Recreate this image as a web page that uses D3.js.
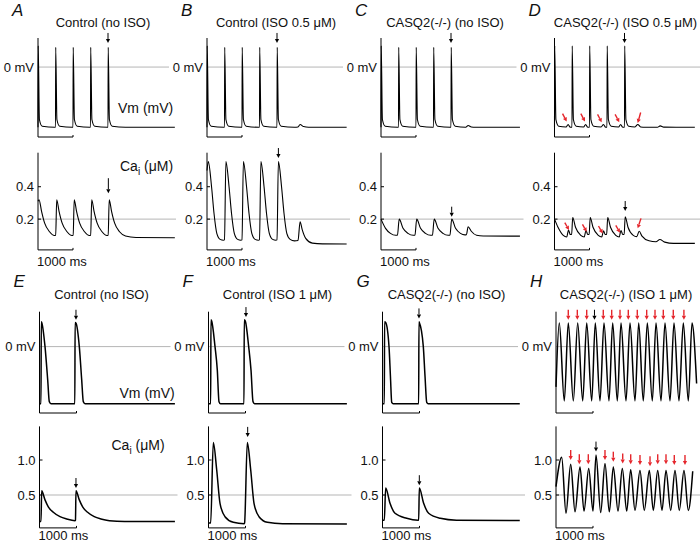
<!DOCTYPE html>
<html lang="en">
<head>
<meta charset="UTF-8" />
<title>CASQ2 Vm / Cai traces</title>
<style>
  body { margin: 0; background: #fff; }
  text { font-family: "Liberation Sans", Arial, sans-serif; fill: #111; }
</style>
</head>
<body>
<svg id="svg" width="700" height="545"></svg>
<script src="https://d3js.org/d3.v7.min.js"></script>
<script>
// ---------- data: [time (ms), Vm (mV)] and [time (ms), Cai (uM)] ----------
const vmA = [[0,-85],[6,30],[40,-74],[120,-83.5],[480,-85],
  [500,-85],[506,28],[540,-74],[620,-83.5],[980,-85],
  [1000,-85],[1006,28],[1040,-74],[1120,-83.5],[1480,-85],
  [1500,-85],[1506,28],[1540,-74],[1620,-83.5],[1980,-85],
  [2000,-85],[2006,28],[2040,-74],[2120,-83.5],[2500,-85],[3910,-85]];
const caA = [[0,0.31],[30,0.32],[100,0.25],[190,0.175],[330,0.122],[470,0.099],
  [505,0.10],[535,0.32],[600,0.25],[690,0.175],[830,0.122],[970,0.099],
  [1005,0.10],[1035,0.32],[1100,0.25],[1190,0.175],[1330,0.122],[1470,0.099],
  [1505,0.10],[1535,0.32],[1600,0.25],[1690,0.175],[1830,0.122],[1970,0.099],
  [2005,0.10],[2035,0.32],[2100,0.25],[2190,0.175],[2330,0.122],[2500,0.096],[2800,0.087],[3910,0.085]];

const vmB = [[0,-85],[6,30],[40,-74],[120,-83.5],[480,-85],
  [500,-85],[506,28],[540,-74],[620,-83.5],[980,-85],
  [1000,-85],[1006,28],[1040,-74],[1120,-83.5],[1480,-85],
  [1500,-85],[1506,28],[1540,-74],[1620,-83.5],[1980,-85],
  [2000,-85],[2006,28],[2040,-74],[2120,-83.5],[2500,-85],[2600,-84.5],[2660,-81],[2760,-84],[2900,-85],[3990,-85]];
const caB = [[0,0.50],[37,0.555],[130,0.40],[200,0.236],[280,0.112],[375,0.075],[470,0.07],
  [500,0.072],[540,0.555],[630,0.40],[700,0.236],[780,0.112],[875,0.075],[970,0.07],
  [1000,0.072],[1040,0.555],[1130,0.40],[1200,0.236],[1280,0.112],[1375,0.075],[1470,0.07],
  [1500,0.072],[1540,0.555],[1630,0.40],[1700,0.236],[1780,0.112],[1875,0.075],[1970,0.07],
  [2000,0.072],[2040,0.555],[2130,0.40],[2200,0.236],[2280,0.112],[2375,0.075],[2500,0.066],
  [2600,0.068],[2660,0.184],[2720,0.135],[2820,0.081],[3010,0.052],[3300,0.047],[3990,0.046]];

const vmC = [[0,-85],[6,30],[40,-74],[120,-83.5],[480,-85],
  [500,-85],[506,28],[540,-74],[620,-83.5],[980,-85],
  [1000,-85],[1006,28],[1040,-74],[1120,-83.5],[1480,-85],
  [1500,-85],[1506,28],[1540,-74],[1620,-83.5],[1980,-85],
  [2000,-85],[2006,28],[2040,-74],[2120,-83.5],[2420,-85],[2490,-82.5],[2580,-84.5],[2700,-85],[3970,-85]];
const caC = [[0,0.20],[130,0.143],[270,0.112],[420,0.10],[470,0.10],
  [520,0.20],[630,0.143],[770,0.112],[920,0.10],[970,0.10],
  [1020,0.20],[1130,0.143],[1270,0.112],[1420,0.10],[1470,0.10],
  [1520,0.20],[1630,0.143],[1770,0.112],[1920,0.10],[1970,0.10],
  [2020,0.20],[2130,0.143],[2270,0.112],[2400,0.103],[2440,0.104],[2490,0.153],[2580,0.125],
  [2730,0.10],[2920,0.096],[3970,0.095]];

const vmD = [[0,-85],[6,30],[40,-74],[120,-83.5],[330,-84.5],[390,-81],[440,-84.5],[480,-85],
  [500,-85],[506,30],[540,-74],[620,-83.5],[830,-84.5],[890,-81],[940,-84.5],[980,-85],
  [1000,-85],[1006,30],[1040,-74],[1120,-83.5],[1330,-84.5],[1400,-81],[1450,-84.5],[1480,-85],
  [1500,-85],[1506,30],[1540,-74],[1620,-83.5],[1830,-84.5],[1890,-81],[1940,-84.5],[1980,-85],
  [2000,-85],[2006,30],[2040,-74],[2120,-83.5],[2300,-84.5],[2380,-81],[2460,-84.5],[2600,-85],
  [2940,-85],[3020,-83],[3120,-84.8],[4010,-85]];
const caD = [[0,0.20],[100,0.15],[250,0.10],[350,0.09],[400,0.133],[450,0.105],[490,0.105],
  [520,0.21],[600,0.15],[750,0.10],[850,0.09],[900,0.13],[950,0.105],[990,0.105],
  [1020,0.21],[1100,0.15],[1250,0.10],[1350,0.09],[1400,0.128],[1450,0.105],[1490,0.105],
  [1520,0.21],[1600,0.15],[1750,0.10],[1850,0.09],[1900,0.13],[1950,0.105],[1990,0.105],
  [2020,0.215],[2100,0.15],[2250,0.10],[2350,0.092],[2420,0.125],[2500,0.095],[2700,0.066],
  [2900,0.06],[3010,0.074],[3150,0.058],[3400,0.05],[4010,0.05]];

const vmE = [[0,-85],[40,-85],[48,37],[59,36],[149,0],[222,-50],[265,-82],[310,-85],
  [955,-85],[962,36],[986,35],[1076,0],[1141,-50],[1184,-82],[1230,-85],[3660,-85]];
const caE = [[0,0.12],[40,0.12],[59,0.56],[149,0.43],[238,0.33],[373,0.253],[554,0.19],[735,0.157],[959,0.133],
  [972,0.14],[986,0.56],[1076,0.43],[1166,0.33],[1300,0.253],[1480,0.19],[1660,0.157],[1890,0.133],
  [2300,0.122],[3660,0.12]];

const vmF = [[0,-85],[59,-85],[66,40],[86,38],[176,0],[238,-35],[284,-82],[325,-85],
  [959,-85],[966,40],[995,38],[1086,0],[1149,-35],[1203,-82],[1245,-85],[3740,-85]];
const caF = [[0,0.10],[59,0.10],[130,1.25],[222,0.857],[311,0.381],[446,0.19],[670,0.11],[960,0.09],
  [975,0.10],[1049,1.25],[1141,0.857],[1230,0.381],[1365,0.19],[1590,0.11],[2000,0.09],[3740,0.086]];

const vmG = [[0,-85],[49,-85],[56,37],[86,36],[176,0],[215,-45],[249,-83],[290,-85],
  [978,-85],[985,37],[995,36],[1103,0],[1150,-45],[1195,-83],[1235,-85],[3710,-85]];
const caG = [[0,0.14],[49,0.14],[86,0.60],[203,0.381],[338,0.239],[654,0.167],[960,0.14],
  [978,0.14],[995,0.60],[1112,0.381],[1247,0.239],[1563,0.167],[2000,0.14],[3710,0.135]];

const vmH = [[0,-60],[89,35],[224,-81],[332,35],[468,-81],[586,35],[722,-81],[830,35],[965,-81],
  [1062,35],[1189,-81],[1297,35],[1432,-81],[1532,35],[1657,-81],[1757,35],[1892,-81],[2000,35],
  [2135,-81],[2235,35],[2359,-81],[2468,35],[2603,-81],[2703,35],[2838,-81],[2946,35],[3081,-81],
  [3189,35],[3324,-81],[3441,35],[3576,-81],[3676,35],[3800,-55]];
const caH = [[0,0.62],[154,1.04],[270,0.24],[397,0.94],[514,0.26],[649,0.90],[757,0.27],[884,0.88],
  [1000,0.27],[1081,1.07],[1208,0.25],[1324,0.95],[1441,0.26],[1549,0.90],[1676,0.27],[1792,0.88],
  [1911,0.27],[2019,0.86],[2135,0.28],[2270,0.85],[2386,0.28],[2522,0.85],[2630,0.28],[2749,0.85],
  [2865,0.28],[2973,0.85],[3100,0.28],[3216,0.85],[3332,0.28],[3459,0.85],[3576,0.28],[3695,0.84]];

// annotation arrows: tip at [time, value]
const blackVm = { A: [[2000,34]], B: [[2000,34]], C: [[2000,34]], D: [[2000,34]],
  E: [[986,40]], F: [[1013,44]], G: [[986,42]], H: [[1040,40]] };
const blackCa = { A: [[2010,0.36]], B: [[2040,0.577]], C: [[2020,0.215]], D: [[2020,0.25]],
  E: [[986,0.60]], F: [[1059,1.33]], G: [[995,0.64]], H: [[1081,1.12]] };
const redVmD = [[349,-77],[871,-77],[1349,-78],[1851,-78]];
const redVmDLast = [[2377,-79]];
const redCaD = [[414,0.133],[920,0.122],[1377,0.112],[1871,0.116]];
const redCaDLast = [[2377,0.143]];
const redVmH = [[332,40],[576,40],[830,40],[1278,40],[1505,40],[1730,40],[1954,40],[2197,40],
  [2451,40],[2676,40],[2900,40],[3170,40],[3457,40]];
const redCaH = [[397,1.0],[630,0.94],[873,0.94],[1324,1.0],[1549,0.976],[1803,0.95],[2019,0.94],
  [2270,0.93],[2541,0.91],[2749,0.94],[2973,0.94],[3197,0.93],[3486,0.93]];

// ---------- layout ----------
const rows = [
  { axisX: [38, 207, 381, 554.5], pxPerSec: 35,
    vmDomain: [-86, 41], vmRange: [128, 38], vmBarY: 137,
    caDomain: [0.01, 0.61], caRange: [249.9, 152.7], caRef: 0.2, caTicks: [0.2, 0.4],
    letterY: 16, titleY: 27, vmLabelY: 113, caLabelY: 171, msY: 266, stroke: 1.1 },
  { axisX: [39.5, 208.5, 382.5, 556], pxPerSec: 37,
    vmDomain: [-87, 52], vmRange: [405, 311.7], vmBarY: 413,
    caDomain: [0.03, 1.48], caRange: [527.9, 426.4], caRef: 0.5, caTicks: [0.5, 1.0],
    letterY: 287, titleY: 299, vmLabelY: 398, caLabelY: 450, msY: 540, stroke: 1.5 }
];

const panels = [
  { id: "A", row: 0, col: 0, title: "Control (no ISO)", titleDx: 65, vm: vmA, ca: caA, units: true },
  { id: "B", row: 0, col: 1, title: "Control (ISO 0.5 \u03BCM)", titleDx: 69, vm: vmB, ca: caB },
  { id: "C", row: 0, col: 2, title: "CASQ2(-/-) (no ISO)", titleDx: 64, vm: vmC, ca: caC },
  { id: "D", row: 0, col: 3, title: "CASQ2(-/-) (ISO 0.5 \u03BCM)", titleDx: 71, vm: vmD, ca: caD },
  { id: "E", row: 1, col: 0, title: "Control (no ISO)", titleDx: 62, vm: vmE, ca: caE, units: true },
  { id: "F", row: 1, col: 1, title: "Control (ISO 1 \u03BCM)", titleDx: 69, vm: vmF, ca: caF },
  { id: "G", row: 1, col: 2, title: "CASQ2(-/-) (no ISO)", titleDx: 64, vm: vmG, ca: caG },
  { id: "H", row: 1, col: 3, title: "CASQ2(-/-) (ISO 1 \u03BCM)", titleDx: 70, vm: vmH, ca: caH }
];

const grey = "#b5b5b5";
const red = "#e5262c";

const svg = d3.select("#svg");
svg.append("rect").attr("width", 700).attr("height", 545).attr("fill", "#fff");

// arrow with its tip at (x, y), pointing along (dx, dy)
function arrow(g, x, y, dx, dy, len, color, w) {
  const n = Math.hypot(dx, dy), ux = dx / n, uy = dy / n;
  const hl = 4, hw = 2.1;
  const bx = x - ux * hl, by = y - uy * hl;
  g.append("line")
    .attr("x1", x - ux * len).attr("y1", y - uy * len)
    .attr("x2", bx).attr("y2", by)
    .attr("stroke", color).attr("stroke-width", w);
  g.append("path")
    .attr("d", `M${x},${y}L${bx - uy * hw},${by + ux * hw}L${bx + uy * hw},${by - ux * hw}Z`)
    .attr("fill", color);
}

function drawPanel(p) {
  const r = rows[p.row];
  const ax = r.axisX[p.col];
  const last = p.col === 3;
  const next = last ? 700 : r.axisX[p.col + 1];

  const x = d3.scaleLinear().domain([0, 1000]).range([ax, ax + r.pxPerSec]);
  const yV = d3.scaleLinear().domain(r.vmDomain).range(r.vmRange);
  const yC = d3.scaleLinear().domain(r.caDomain).range(r.caRange);

  const g = svg.append("g");

  // reference lines (0 mV, Ca level)
  g.append("line").attr("x1", ax).attr("x2", last ? 700 : next - 38)
    .attr("y1", yV(0)).attr("y2", yV(0)).attr("stroke", grey).attr("stroke-width", 1);
  g.append("line").attr("x1", ax).attr("x2", last ? 700 : next - 31)
    .attr("y1", yC(r.caRef)).attr("y2", yC(r.caRef)).attr("stroke", grey).attr("stroke-width", 1);

  // Vm axis + 1000 ms bar
  const barEnd = x(1000);
  g.append("path")
    .attr("d", `M${ax},${r.vmRange[1]}V${r.vmBarY}H${barEnd}v-2`)
    .attr("fill", "none").attr("stroke", "#000").attr("stroke-width", 1);
  // Ca axis + 1000 ms bar
  const caBottom = r.caRange[0];
  g.append("path")
    .attr("d", `M${ax},${r.caRange[1]}V${caBottom}H${barEnd}v-2`)
    .attr("fill", "none").attr("stroke", "#000").attr("stroke-width", 1);
  g.selectAll("line.tick").data(r.caTicks).join("line")
    .attr("x1", ax).attr("x2", ax + 3)
    .attr("y1", d => yC(d)).attr("y2", d => yC(d))
    .attr("stroke", "#000").attr("stroke-width", 1);

  // labels
  g.append("text").attr("x", ax - 4).attr("y", yV(0)).attr("dy", "0.36em")
    .attr("text-anchor", "end").attr("font-size", 13).text("0 mV");
  g.selectAll("text.ct").data(r.caTicks).join("text")
    .attr("x", ax - 4).attr("y", d => yC(d)).attr("dy", "0.36em")
    .attr("text-anchor", "end").attr("font-size", 13).text(d3.format(".1f"));
  g.append("text").attr("x", ax - 1).attr("y", r.msY).attr("font-size", 13).text("1000 ms");
  g.append("text").attr("x", ax - 26).attr("y", r.letterY).attr("font-size", 17)
    .attr("font-style", "italic").text(p.id);
  g.append("text").attr("x", ax + p.titleDx).attr("y", r.titleY).attr("text-anchor", "middle")
    .attr("font-size", 13).text(p.title);

  if (p.units) {
    g.append("text").attr("x", ax + 80).attr("y", r.vmLabelY).attr("font-size", 14).text("Vm (mV)");
    const t = g.append("text").attr("x", ax + (p.row === 0 ? 82 : 72)).attr("y", r.caLabelY).attr("font-size", 14);
    t.append("tspan").text("Ca");
    t.append("tspan").attr("dy", 4).attr("font-size", 10).text("i");
    t.append("tspan").attr("dy", -4).text(" (\u03BCM)");
  }

  // traces
  const lineV = d3.line().x(d => x(d[0])).y(d => yV(d[1])).curve(d3.curveMonotoneX);
  const lineC = d3.line().x(d => x(d[0])).y(d => yC(d[1])).curve(d3.curveMonotoneX);
  g.append("path").datum(p.vm).attr("d", lineV)
    .attr("fill", "none").attr("stroke", "#000").attr("stroke-width", r.stroke).attr("stroke-linejoin", "round");
  g.append("path").datum(p.ca).attr("d", lineC)
    .attr("fill", "none").attr("stroke", "#000").attr("stroke-width", r.stroke).attr("stroke-linejoin", "round");

  // arrows
  blackVm[p.id].forEach(d => arrow(g, x(d[0]), yV(d[1]), 0, 1, 10, "#000", 1));
  blackCa[p.id].forEach(d => arrow(g, x(d[0]), yC(d[1]), 0, 1, p.id === "A" ? 15 : 10, "#000", 1));
  if (p.id === "D") {
    redVmD.forEach(d => arrow(g, x(d[0]), yV(d[1]), 4, 7.7, 9, red, 1.4));
    redVmDLast.forEach(d => arrow(g, x(d[0]), yV(d[1]), -3, 10.7, 11, red, 1.4));
    redCaD.forEach(d => arrow(g, x(d[0]), yC(d[1]), 4, 7, 8.5, red, 1.4));
    redCaDLast.forEach(d => arrow(g, x(d[0]), yC(d[1]), -3.3, 10, 10.5, red, 1.4));
  }
  if (p.id === "H") {
    redVmH.forEach(d => arrow(g, x(d[0]), yV(d[1]), 0, 1, 10, red, 1.4));
    redCaH.forEach(d => arrow(g, x(d[0]), yC(d[1]), 0, 1, 10, red, 1.4));
  }
}

panels.forEach(drawPanel);
</script>
</body>
</html>
